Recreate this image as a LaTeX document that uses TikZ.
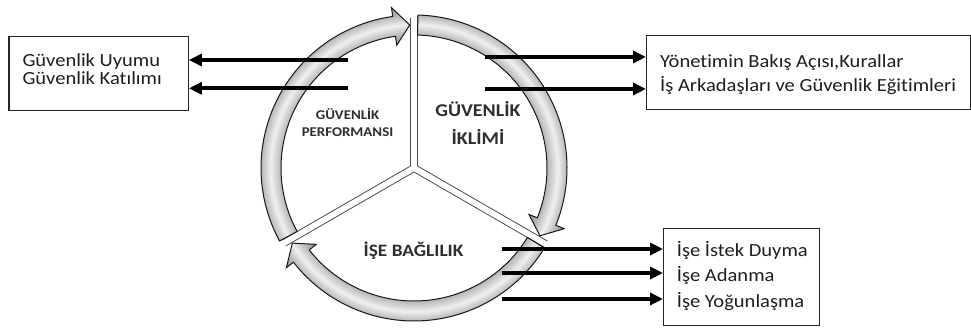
\documentclass[tikz,border=0pt]{standalone}
\usepackage{fontspec}
\setmainfont{Carlito}[FakeStretch=1.11, Ligatures=NoCommon]
\usetikzlibrary{arrows.meta}

\definecolor{ringdark}{gray}{0.53}
\definecolor{ringmid}{gray}{0.72}
\definecolor{ringlight}{gray}{0.94}
\definecolor{inktext}{gray}{0.12}

% radial gradient of the ring band (outer square of 50bp maps to radius 170)
\pgfdeclareradialshading{ringshade}{\pgfpoint{0bp}{0bp}}{%
  color(0bp)=(ringdark); color(18bp)=(ringdark); color(19.6bp)=(ringmid);
  color(21.1bp)=(ringlight); color(22.5bp)=(ringmid); color(24bp)=(ringdark);
  color(25bp)=(ringdark); color(50bp)=(ringdark)}

\begin{document}
\begin{tikzpicture}[x=1pt,y=1pt,
  box/.style={draw=black!85, line width=1.2pt, fill=white, inner sep=0pt, anchor=north west},
  conn/.style={line width=4pt, -{Triangle[length=13pt,width=12pt]}},
  divider/.style={draw=black!70, line width=0.8pt},
  ringedge/.style={draw=black!90, line width=1pt, line join=miter},
  txt/.style={anchor=base west, inner sep=0pt, text=inktext, font=\fontsize{18.5}{22}\selectfont},
  lblsmall/.style={anchor=base, inner sep=0pt, text=black!82, font=\bfseries\fontsize{13.4}{15}\selectfont},
  lblbig/.style={anchor=base, inner sep=0pt, text=black!82, font=\bfseries\fontsize{18}{20}\selectfont},
  lblmid/.style={anchor=base, inner sep=0pt, text=black!82, font=\bfseries\fontsize{17.4}{20}\selectfont}]

\useasboundingbox (0,0) rectangle (971,328);
\fill[white] (0,0) rectangle (971,328);

\begin{scope}[shift={(414,160)}]
  % the three white sectors, drawn as parallel divider lines
  \draw[divider] (150:4pt) ++(90:148pt) -- (150:4pt) -- ++(210:148pt);
  \draw[divider] (30:4pt) ++(90:150pt) -- (30:4pt) -- ++(-30:150pt);
  \draw[divider] (270:4pt) ++(210:148pt) -- (270:4pt) -- ++(-30:150pt);

  % cycle arrows: start angle / head base angle / tip angle
  \foreach \s/\h/\t in {88.5/-22/-28.3, 208.5/98/91.7, -31.5/-142/-148.3} {
    \begin{scope}
      \clip (\s:153pt) arc[start angle=\s, end angle=\h, radius=153pt]
        -- (\h:162pt) -- (\t:143pt) -- (\h:124pt) -- (\h:133pt)
        arc[start angle=\h, end angle=\s, radius=133pt] -- cycle;
      \shade[shading=ringshade] (0,0) circle[radius=170pt];
    \end{scope}
    \draw[ringedge] (\s:153pt) arc[start angle=\s, end angle=\h, radius=153pt]
      -- (\h:162pt) -- (\t:143pt) -- (\h:124pt) -- (\h:133pt)
      arc[start angle=\h, end angle=\s, radius=133pt] -- cycle;
  }
\end{scope}

% sector titles
\node[lblsmall] (gp1) at (347.5,208) {GÜVENLİK};
\node[lblsmall] (gp2) at (347.5,191.3) {PERFORMANSI};
\node[lblbig] (gi1) at (478,211.3) {GÜVENLİK};
\node[lblbig] (gi2) at (478,183) {İKLİMİ};
\node[lblmid] (ib) at (413.5,71.3) {İŞE BAĞLILIK};

% boxes
\node[box, minimum width=179.4pt, minimum height=74.3pt] (bL) at (8.3,292.3) {};
\node[box, minimum width=324pt, minimum height=74pt] (bR) at (646,293) {};
\node[box, minimum width=156pt, minimum height=96.7pt] (bB) at (663,99.7) {};

% box texts
\node[txt] (tL1) at (22.3,261.7) {Güvenlik Uyumu};
\node[txt] (tL2) at (22.3,243.3) {Güvenlik Katılımı};
\node[txt] (tR1) at (660,260.3) {Yönetimin Bakış Açısı,Kurallar};
\node[txt] (tR2) at (660,236) {İş Arkadaşları ve Güvenlik Eğitimleri};
\node[txt] (tB1) at (676.7,71.3) {İşe İstek Duyma};
\node[txt] (tB2) at (676.7,46.3) {İşe Adanma};
\node[txt] (tB3) at (676.7,20.3) {İşe Yoğunlaşma};

% connectors
\coordinate (a1) at (348,268);
\coordinate (a2) at (348,239.7);
\coordinate (b1) at (485,271);
\coordinate (b2) at (485,239);
\coordinate (c1) at (502,79);
\coordinate (c2) at (502,55);
\coordinate (c3) at (502,29);
\draw[conn] (a1) -- (a1 -| bL.east);
\draw[conn] (a2) -- (a2 -| bL.east);
\draw[conn] (b1) -- (b1 -| bR.west);
\draw[conn] (b2) -- (b2 -| bR.west);
\draw[conn] (c1) -- (c1 -| bB.west);
\draw[conn] (c2) -- (c2 -| bB.west);
\draw[conn] (c3) -- (c3 -| bB.west);
\end{tikzpicture}
\end{document}
